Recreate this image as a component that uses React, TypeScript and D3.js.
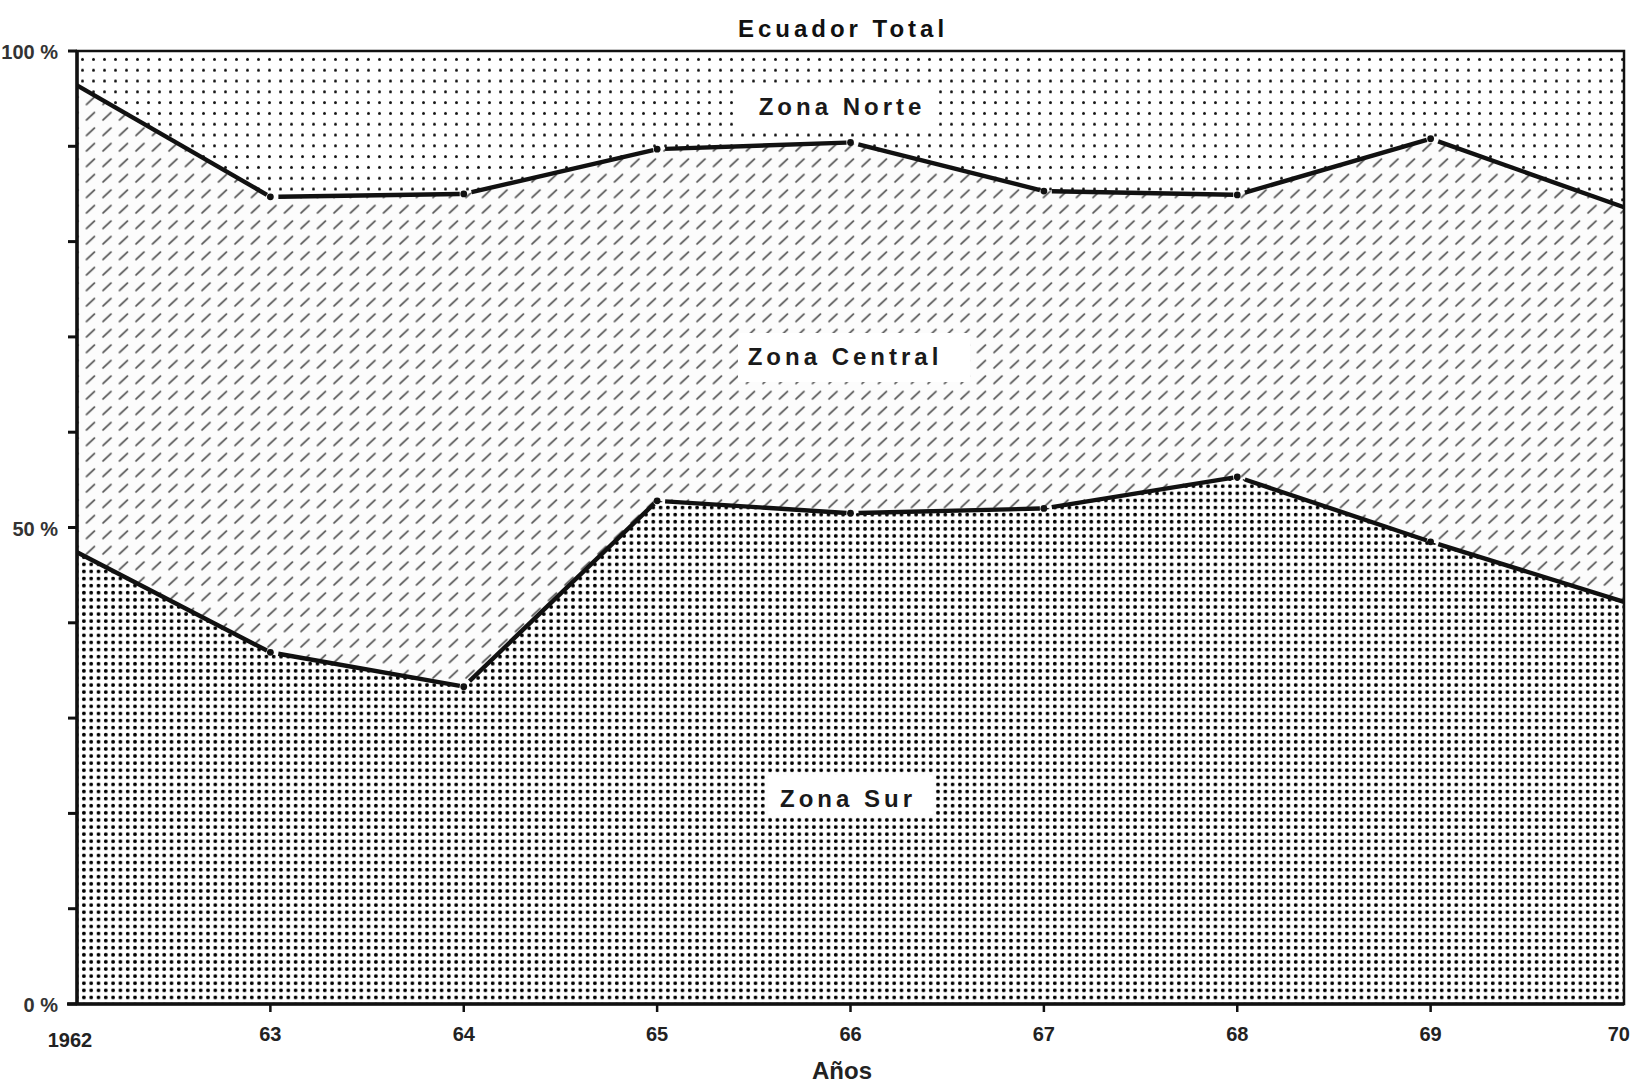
import React from "react";
import * as d3 from "d3";

const years = [1962, 1963, 1964, 1965, 1966, 1967, 1968, 1969, 1970];
const yearLabels = ["1962", "63", "64", "65", "66", "67", "68", "69", "70"];
const zonaSur = [47.4, 36.9, 33.3, 52.8, 51.5, 52.0, 55.3, 48.5, 42.2];
const zonaCentral = [49.0, 47.8, 51.7, 36.9, 38.9, 33.3, 29.6, 42.3, 41.4];
const zonaNorte = [3.6, 15.3, 15.0, 10.3, 9.6, 14.7, 15.1, 9.2, 16.4];
const keys = ["sur", "central", "norte"];
const yTicks = [0, 10, 20, 30, 40, 50, 60, 70, 80, 90, 100];
const yTickLabels: Record<number, string> = { 0: "0 %", 50: "50 %", 100: "100 %" };

const W = 1632, H = 1086;
const L = 77, R = 1624, T = 51, B = 1004;

export default function App() {
  const x = d3.scaleLinear().domain([1962, 1970]).range([L, R]);
  const y = d3.scaleLinear().domain([0, 100]).range([B, T]);
  const table = years.map((yr, i) => ({ year: yr, sur: zonaSur[i], central: zonaCentral[i], norte: zonaNorte[i] }));
  const series = d3.stack<any>().keys(keys)(table);
  const area = d3
    .area<any>()
    .x((d) => x(d.data.year))
    .y0((d) => y(d[0]))
    .y1((d) => y(Math.min(100, d[1])));
  const fills = ["url(#pSur)", "url(#pCentral)", "url(#pNorte)"];

  const boundaries = [series[0].map((d) => d[1]), series[1].map((d) => d[1])];
  const segs: JSX.Element[] = [];
  boundaries.forEach((vals, bi) => {
    for (let i = 0; i < vals.length - 1; i++) {
      const x1 = x(years[i]), y1 = y(vals[i]), x2 = x(years[i + 1]), y2 = y(vals[i + 1]);
      const len = Math.hypot(x2 - x1, y2 - y1);
      const ux = (x2 - x1) / len, uy = (y2 - y1) / len;
      const g1 = i === 0 ? 0 : 8;
      const g2 = i === vals.length - 2 ? 0 : 4;
      segs.push(
        <line key={`s${bi}-${i}`} x1={x1 + ux * g1} y1={y1 + uy * g1} x2={x2 - ux * g2} y2={y2 - uy * g2}
          stroke="#111" strokeWidth={4.4} />
      );
    }
    vals.forEach((v, i) => {
      if (i > 0 && i < vals.length - 1)
        segs.push(<circle key={`c${bi}-${i}`} cx={x(years[i])} cy={y(v)} r={3.4} fill="#111" />);
    });
  });

  const font = "'Liberation Sans', Arial, sans-serif";
  const labels = [
    { text: "Zona Norte", cx: 842, base: 115, rect: [740, 85, 195, 43] },
    { text: "Zona Central", cx: 845, base: 365, rect: [738, 333, 232, 49] },
    { text: "Zona Sur", cx: 848, base: 807, rect: [767, 775, 168, 42] },
  ];
  const last = years.length - 1;

  return (
    <svg width={W} height={H} style={{ position: "absolute", left: 0, top: 0, background: "#fff" }}>
      <defs>
        <pattern id="pNorte" width={11} height={10.8} patternUnits="userSpaceOnUse">
          <rect width={11} height={10.8} fill="#fff" />
          <circle cx={5.5} cy={5.4} r={1.5} fill="#111" />
        </pattern>
        <pattern id="pCentral" width={16.5} height={15.5} patternUnits="userSpaceOnUse">
          <rect width={16.5} height={15.5} fill="#fcfcfc" />
          <line x1={4} y1={11.5} x2={12} y2={4} stroke="#555" strokeWidth={1.8} strokeLinecap="round" />
        </pattern>
        <pattern id="pSur" width={7.3} height={7.1} patternUnits="userSpaceOnUse">
          <rect width={7.3} height={7.1} fill="#fff" />
          <circle cx={3.6} cy={3.5} r={1.9} fill="#000" />
        </pattern>
      </defs>

      {series.map((s, i) => (
        <path key={keys[i]} d={area(s as any) || ""} fill={fills[i]} />
      ))}

      {segs}

      {/* frame */}
      <rect x={L} y={T} width={R - L} height={B - T} fill="none" stroke="#111" strokeWidth={2.5} />
      <line x1={L} y1={T} x2={L} y2={B} stroke="#111" strokeWidth={3.5} />
      <line x1={L - 10} y1={B} x2={R} y2={B} stroke="#111" strokeWidth={3.5} />

      {/* y ticks */}
      {yTicks.map((t) => (
        <line key={`yt${t}`} x1={L - 9} x2={L} y1={y(t)} y2={y(t)} stroke="#111" strokeWidth={3} />
      ))}
      {yTicks.filter((t) => yTickLabels[t]).map((t) => (
        <text key={`yl${t}`} x={58} y={y(t) + 8} textAnchor="end" fontFamily={font} fontWeight={700}
          fontSize={20} fill="#333">{yTickLabels[t]}</text>
      ))}

      {/* x ticks */}
      {years.slice(1, -1).map((yr) => (
        <line key={`xt${yr}`} x1={x(yr)} x2={x(yr)} y1={B} y2={B + 8} stroke="#111" strokeWidth={2.5} />
      ))}
      {years.map((yr, i) => (
        <text key={`xl${yr}`} x={i === 0 ? 70 : i === last ? 1630 : x(yr)} y={i === 0 ? 1047 : 1041}
          textAnchor={i === last ? "end" : "middle"}
          fontFamily={font} fontWeight={700} fontSize={20} fill="#222">{yearLabels[i]}</text>
      ))}

      <text x={842} y={1079} textAnchor="middle" fontFamily={font} fontWeight={700} fontSize={24} fill="#222">Años</text>

      <text x={843} y={37} textAnchor="middle" fontFamily={font} fontWeight={700} fontSize={24}
        letterSpacing={4} fill="#111">Ecuador Total</text>

      {labels.map((lb) => (
        <g key={lb.text}>
          <rect x={lb.rect[0]} y={lb.rect[1]} width={lb.rect[2]} height={lb.rect[3]} fill="#fff" />
          <text x={lb.cx} y={lb.base} textAnchor="middle" fontFamily={font} fontWeight={700} fontSize={24}
            letterSpacing={4} fill="#1a1a1a">{lb.text}</text>
        </g>
      ))}
    </svg>
  );
}
